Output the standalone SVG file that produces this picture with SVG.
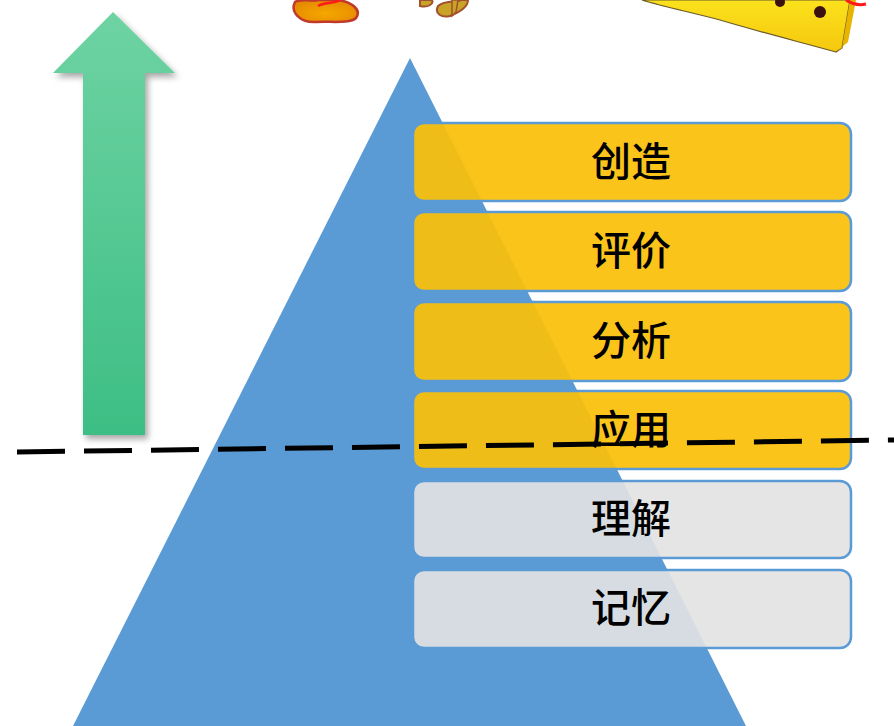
<svg xmlns="http://www.w3.org/2000/svg" width="894" height="726" viewBox="0 0 894 726">
  <defs>
    <linearGradient id="arrowGrad" x1="0" y1="0" x2="0" y2="1">
      <stop offset="0" stop-color="#6ED3A2"/>
      <stop offset="1" stop-color="#3DBE84"/>
    </linearGradient>
    <radialGradient id="blobGrad" cx="0.5" cy="0.6" r="0.6">
      <stop offset="0" stop-color="#F6A800"/>
      <stop offset="1" stop-color="#E58A00"/>
    </radialGradient>
    <linearGradient id="rulerGrad" x1="0" y1="0" x2="0" y2="1">
      <stop offset="0" stop-color="#FBE21C"/>
      <stop offset="1" stop-color="#F5C80E"/>
    </linearGradient>
    <filter id="shadow" x="-30%" y="-10%" width="160%" height="120%">
      <feDropShadow dx="3" dy="4" stdDeviation="3" flood-color="#000" flood-opacity="0.35"/>
    </filter>
  </defs>
  <style>
    .box { stroke: #5B9BD5; stroke-width: 2.5; }
    .hi { fill: #FBC009; fill-opacity: 0.93; }
    .lo { fill: #E2E2E2; fill-opacity: 0.91; }
    .label { font-family: "Noto Sans CJK SC", "Noto Sans", sans-serif; font-size: 40px; font-weight: 500; fill: #000; text-anchor: middle; }
  </style>

  <rect width="894" height="726" fill="#FFFFFF"/>

  <!-- decorative title fragments at the top edge -->
  <g id="title-art">
    <path d="M295 2 C300 -2 312 2 318 0 L338 0 C352 2 362 10 356 18 C350 24 330 21 316 22 C300 23 290 12 295 2 Z" fill="url(#blobGrad)" stroke="#C0392B" stroke-width="2.5"/>
    <path d="M318 6 C324 2 334 4 340 0" fill="none" stroke="#FF1A1A" stroke-width="2.5"/>
    <path d="M420 0 L432 0 C434 4 428 8 420 6 Z" fill="#C9A326" stroke="#A0522D" stroke-width="2"/>
    <path d="M438 6 C444 0 456 2 462 0 L468 0 C468 6 460 12 450 16 C442 18 434 14 438 6 Z" fill="#C9A326" stroke="#A0522D" stroke-width="2"/>
    <path d="M452 0 L458 0 L456 12 L452 16 Z" fill="#C9A326" stroke="#A0522D" stroke-width="1.5"/>
  </g>

  <!-- yellow ruler corner at the top right -->
  <g id="ruler">
    <path d="M642 0 L850 0 L845 30 L842 48 L836 52 C800 42 760 32 720 20 C690 12 660 6 642 0 Z" fill="url(#rulerGrad)" stroke="#6B5A2A" stroke-width="1.2"/>
    <path d="M836 52 L842 48 L850 0 L856 0 L848 42 Z" fill="#E9B400"/>
    <circle cx="780" cy="2" r="5" fill="#3A1010"/>
    <circle cx="820" cy="12" r="6" fill="#3A1010"/>
    <path d="M846 0 C852 4 858 6 866 4" fill="none" stroke="#FF1A1A" stroke-width="3"/>
  </g>

  <!-- upward arrow -->
  <g id="arrow" filter="url(#shadow)">
    <path d="M113 12 L175 73 L145 73 L145 435 L83 435 L83 73 L53 73 Z" fill="url(#arrowGrad)"/>
  </g>

  <!-- pyramid -->
  <g id="pyramid">
    <polygon points="410,58 746,726 73,726" fill="#5B9BD5"/>
  </g>

  <!-- levels -->
  <g id="level-create">
    <rect class="box hi" x="413" y="123" width="438" height="78" rx="11"/>
    <text class="label" x="631" y="176">创造</text>
  </g>
  <g id="level-evaluate">
    <rect class="box hi" x="413" y="212" width="438" height="79" rx="11"/>
    <text class="label" x="631" y="265">评价</text>
  </g>
  <g id="level-analyze">
    <rect class="box hi" x="413" y="302" width="438" height="79" rx="11"/>
    <text class="label" x="631" y="355">分析</text>
  </g>
  <g id="level-apply">
    <rect class="box hi" x="413" y="391" width="438" height="78" rx="11"/>
    <text class="label" x="631" y="444">应用</text>
  </g>
  <g id="level-understand">
    <rect class="box lo" x="413" y="481" width="438" height="77" rx="11"/>
    <text class="label" x="631" y="533">理解</text>
  </g>
  <g id="level-remember">
    <rect class="box lo" x="413" y="570" width="438" height="78" rx="11"/>
    <text class="label" x="631" y="622">记忆</text>
  </g>

  <!-- dividing line -->
  <g id="connectors">
    <line x1="17" y1="452" x2="894" y2="440" stroke="#000" stroke-width="5" stroke-dasharray="48 19"/>
  </g>
</svg>
